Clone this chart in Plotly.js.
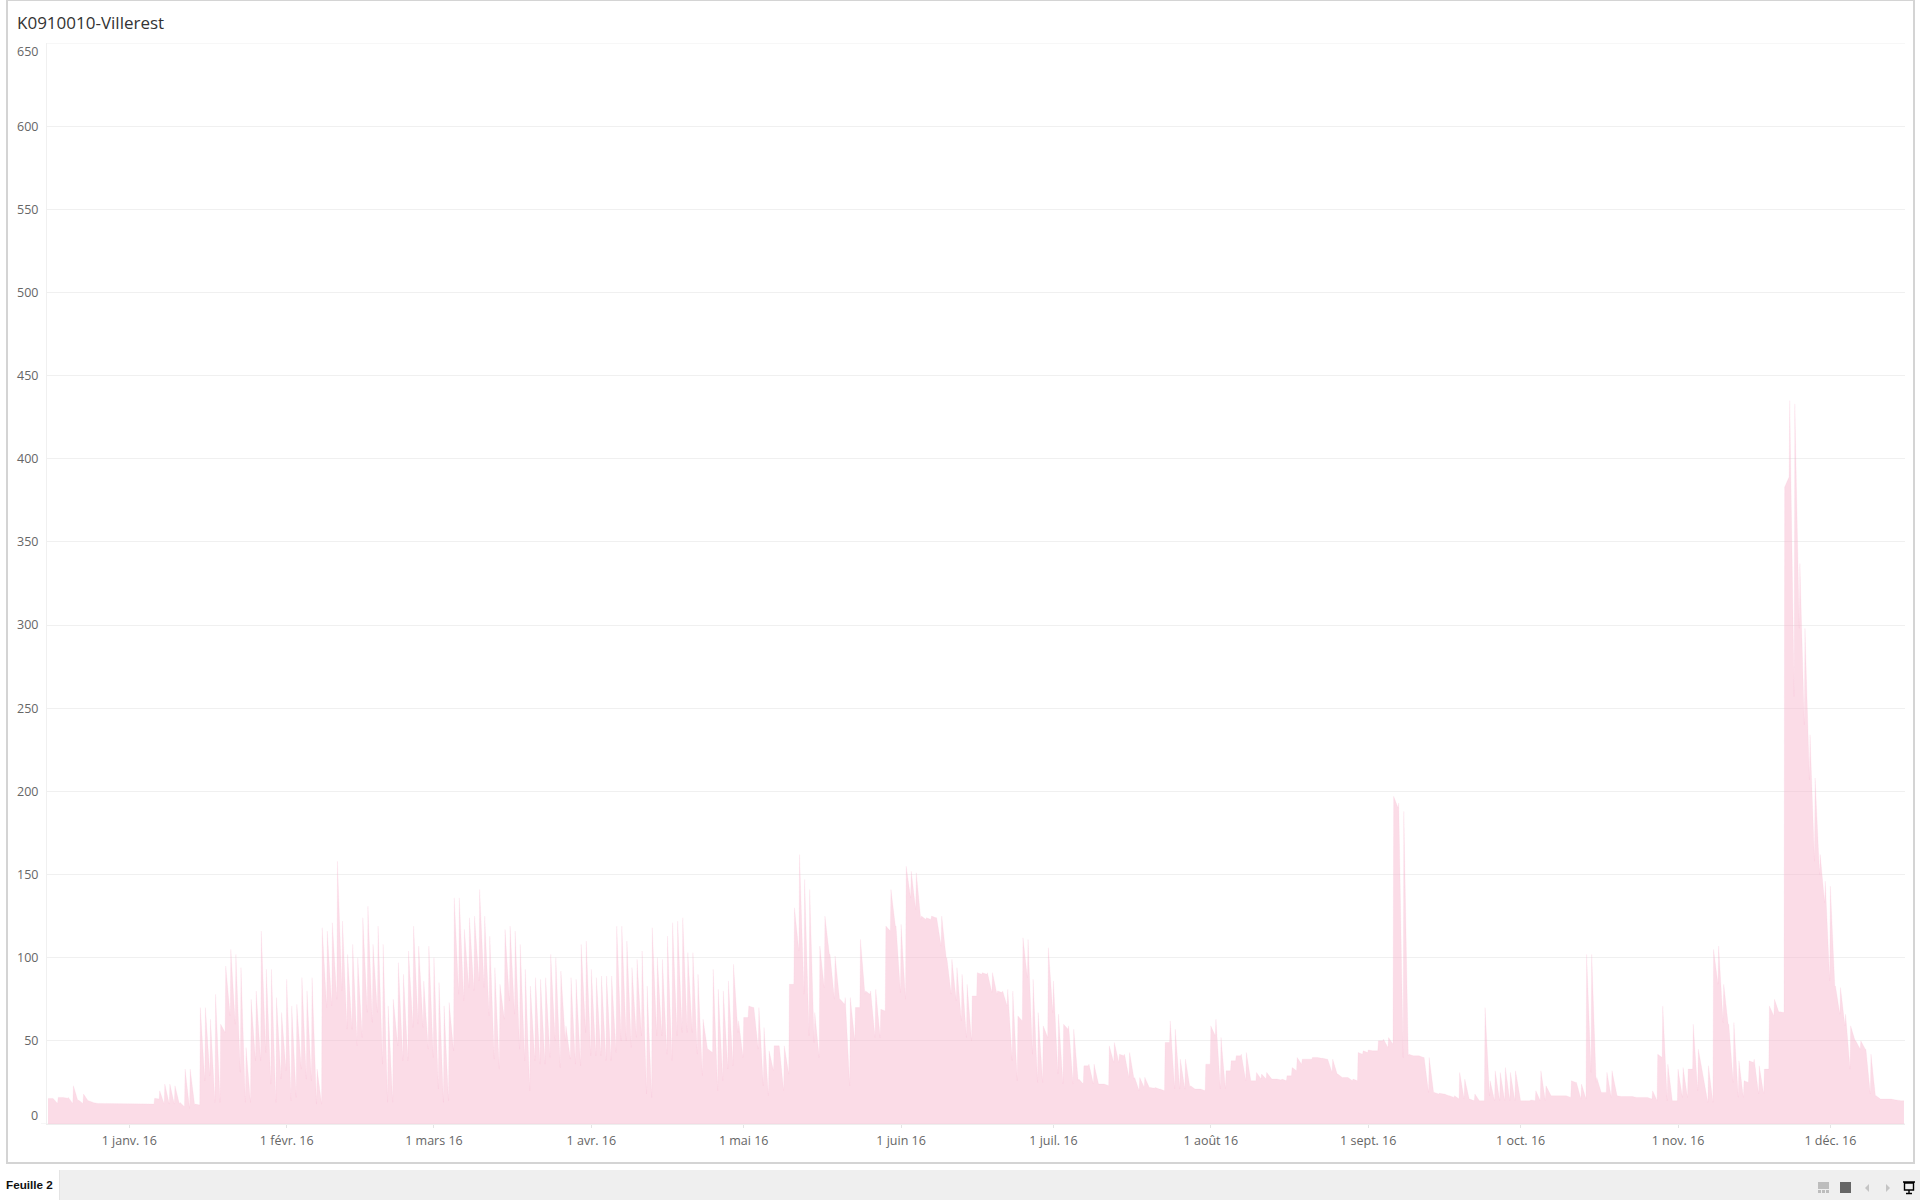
<!DOCTYPE html>
<html><head><meta charset="utf-8">
<script src="https://cdn.plot.ly/plotly-3.0.1.min.js"></script>
<style>
html,body{margin:0;padding:0;background:#fff;overflow:hidden;width:1920px;height:1200px}
#chart{position:absolute;left:0;top:0;width:1920px;height:1200px}
.abs{position:absolute;pointer-events:none}
</style></head><body>
<div id="chart"></div>
<div class="abs" style="left:6px;top:0;width:1905px;height:1161px;border:2px solid #d4d4d4;border-top-width:1px;box-sizing:content-box"></div>
<div class="abs" style="left:0;top:1170px;width:1920px;height:30px;background:#efefef"></div>
<div class="abs" style="left:0;top:1170px;width:60px;height:30px;background:#fff;border-right:1px solid #e4e4e4;box-sizing:border-box"></div>
<div class="abs" style="left:6px;top:1177px;font:bold 11.7px 'Liberation Sans',sans-serif;color:#111;line-height:15px">Feuille 2</div>
<svg class="abs" style="left:1800px;top:1170px" width="120" height="30" viewBox="0 0 120 30">
<rect x="18" y="12" width="11" height="7" fill="#bdbdbd"/><rect x="18" y="20" width="3" height="3" fill="#bdbdbd"/><rect x="22" y="20" width="3" height="3" fill="#bdbdbd"/><rect x="26" y="20" width="3" height="3" fill="#bdbdbd"/>
<rect x="40" y="12" width="11" height="11" fill="#666"/>
<path d="M69 14 L69 22 L65 18 Z" fill="#c4c4c4"/><path d="M86 14 L86 22 L90 18 Z" fill="#c4c4c4"/>
<path d="M103 12 h12 M104.5 13 h9 v7 h-9 z M109 20 v3 M106 23.5 h6" stroke="#000" stroke-width="1.4" fill="none"/>
</svg>
<script>
// Daily readings in m3/s: "high" is the value at the start of each day, "low" the trough just before it.
const highDec15 = [15.4,15.4,16,16,16,23,14.4,18,14,12.8,12.4,12,12,12.4,12,12];
const lowDec15  = [15,15,12.4,16,15.5,12.4,14,12.4,14,13,12.4,12,12,12,12,12];
const highJan = [12.4,12,12,12.4,12,15.5,20,24,24,23,13,33,33,12,70,70,63,78,60,95,105,102,94,46,75,80,116,93,93,76,67];
const lowJan  = [12,12,12,12,12,12,15,12,12,12,12,10.4,9.4,11.4,11.4,26,29,13,13,55,65,60,31,13,13,38,38,43,24,13,27];
const highFeb = [87,71,72,88,80,88,33,118,116,121,158,122,102,108,100,124,131,108,119,108,71,75,97,90,104,119,107,86,107];
const lowFeb  = [32,14,16,33,27,26,12,12,70,71,75,80,57,57,47,52,67,61,67,36,13,13,47,38,38,58,60,58,45];
const highMar = [100,85,71,73,136,136,117,124,125,141,125,113,94,84,117,119,116,108,93,83,88,87,88,102,100,92,59,88,87,108,110];
const lowMar  = [40,21,13,14,44,78,74,82,80,86,82,65,39,33,63,74,66,45,38,20,38,36,36,40,50,34,50,39,36,35,55];
const highApr = [93,88,89,89,89,119,119,110,94,99,104,83,118,100,99,113,121,122,124,103,103,90,63,45,93,81,80,86,96,62];
const lowApr  = [41,41,41,38,38,43,50,50,46,52,53,18,16,53,53,42,38,53,55,55,55,42,29,45,43,20,26,33,35,55];
const highMay = [64,71,70,70,58,44,47,47,47,84,130,162,147,141,67,107,125,102,101,75,76,76,70,111,80,80,81,69,119,141,119];
const lowMay  = [40,64,70,45,23,17,32,47,20,30,84,104,78,53,49,40,82,102,75,75,72,23,50,70,78,78,52,52,68,116,119];
const highJun = [120,155,152,151,125,124,125,124,125,100,99,94,90,84,77,91,91,91,91,80,80,81,80,65,112,111,87,67,59,106];
const lowJun  = [79,75,136,129,123,123,123,124,107,100,78,74,62,52,50,77,90,90,79,78,79,71,38,26,62,88,42,25,25,52];
const highJul = [86,66,60,59,57,27,35,36,36,24,24,47,49,42,42,43,28,28,28,22,22,21,49,62,57,39,39,23,21,21,36];
const lowJul  = [67,30,24,57,24,26,24,35,24,24,24,23,37,37,41,28,27,20,22,22,21.5,21,20,49,21,21,21,22,21,21,20];
const highAug = [59,63,52,32,38,41,42,43,26,31,30,31,27,27,27,29,34,40,39,39,40,40,39.5,39,39,30,28,28,27,43,44];
const lowAug  = [36,53,21,21,32,38,41,26,26,26,27,27,27,27,26.5,26,29,32,36,39,39,40,39.5,39,31,30,28,28,26,26,42];
const highSep = [44.5,44,50,51,52,197,193,188,42,41,41,40,40,19,18.5,18,17,17,31,27,15,18,14,70,26,32,31,34,31,32];
const lowSep  = [43,44,44,50,46,48,190,40,41,41,41,40,19,19,18,18,17,16,15,15,15,14,14,14,17,14,14,14,14,14];
const highOct = [14,14,14.5,20,32,23,17,17,17,17,26,25,24,102,102,28,19,31,32,17,16.5,16.5,16.5,16,16,16,20,42,71,36,14];
const lowOct  = [14,14,14,14,14,14,17,17,17,17,16,25,15,15,31,25,19,19,16,17,16.5,16.5,16.5,16,16,16,15,14,40,14,14];
const highNov = [33,34,33,60,45,28,35,105,107,84,60,61,38,26,38,39,35,33,71,75,67.5,383,435,433,337,298,234,208,162,146];
const lowNov  = [14,16,16,33,20,28,13,13,84,61,60,25,16,16,25,37,18,18,33,65,67,67,389,257,298,240,207,158,150,133];
const highDec16 = [143,83,82,66,59,50,50,45,42,17,15,15,15,14.5,14];
const lowDec16  = [86,83,66,59,33,50,45,45,18,17,15,15,15,14.5,14];

const monthTicks = ["2016-01-01","2016-02-01","2016-03-01","2016-04-01","2016-05-01","2016-06-01","2016-07-01","2016-08-01","2016-09-01","2016-10-01","2016-11-01","2016-12-01"];
const monthLabels = ["1 janv. 16","1 févr. 16","1 mars 16","1 avr. 16","1 mai 16","1 juin 16","1 juil. 16","1 août 16","1 sept. 16","1 oct. 16","1 nov. 16","1 déc. 16"];
const yTicks = [50,100,150,200,250,300,350,400,450,500,550,600];

const highs = [].concat(highDec15,highJan,highFeb,highMar,highApr,highMay,highJun,highJul,highAug,highSep,highOct,highNov,highDec16);
const lows  = [].concat(lowDec15,lowJan,lowFeb,lowMar,lowApr,lowMay,lowJun,lowJul,lowAug,lowSep,lowOct,lowNov,lowDec16);

const xs = [], ys = [];
highs.forEach(function(h,i){
  const day = Date.UTC(2015,11,16+i);
  if(i>0){ xs.push(day-3*3600e3); ys.push(lows[i]); }
  xs.push(day); ys.push(h);
});
xs.push(Date.UTC(2016,11,15,12)); ys.push(highs[highs.length-1]);

Plotly.newPlot('chart',[{
  type:'scatter',mode:'lines',x:xs,y:ys,
  fill:'tozeroy',fillcolor:'rgba(247,181,205,0.48)',
  line:{color:'rgba(247,181,205,0.25)',width:0.6,shape:'linear'},
  hoverinfo:'x+y'
}],{
  width:1920,height:1200,autosize:false,showlegend:false,
  paper_bgcolor:'rgba(0,0,0,0)',plot_bgcolor:'rgba(0,0,0,0)',
  margin:{l:47,r:15,t:43,b:75.5,pad:0},
  font:{family:'"Open Sans",sans-serif',size:12.5,color:'#666'},
  title:{text:'K0910010-Villerest',x:17/1920,xanchor:'left',xref:'container',y:1-23.5/1200,yanchor:'middle',yref:'container',
         font:{family:'"Open Sans",sans-serif',size:17,color:'#333'}},
  xaxis:{type:'date',range:['2015-12-15 19:12','2016-12-15 16:48'],tickmode:'array',tickvals:monthTicks,ticktext:monthLabels,
         showgrid:false,zeroline:false,showline:true,linecolor:'#eeeeee',linewidth:1,ticks:'outside',ticklen:3,tickcolor:'#e4e4e4',tickwidth:1,
         ticklabelstandoff:2,tickfont:{size:12.5,color:'#666'}},
  yaxis:{range:[0,650],tickmode:'array',tickvals:yTicks,ticktext:yTicks.map(String),
         showgrid:true,gridcolor:'#f0f0f0',gridwidth:1,zeroline:false,showline:true,linecolor:'#f0f0f0',linewidth:1,
         ticks:'outside',ticklen:5,tickcolor:'rgba(0,0,0,0)',tickfont:{size:12.5,color:'#666'}},
  shapes:[
    {type:'line',xref:'paper',yref:'y',x0:-6/1858,x1:1,y0:0,y1:0,line:{color:'#eeeeee',width:1},layer:'below'},
    {type:'line',xref:'paper',yref:'y',x0:0,x1:1,y0:650,y1:650,line:{color:'#f0f0f0',width:1},layer:'below'}
  ],
  annotations:[
    {xref:'paper',yref:'y',x:0,y:0,text:'0',showarrow:false,xanchor:'right',yanchor:'middle',xshift:-7,yshift:9,font:{size:12.5,color:'#666'}},
    {xref:'paper',yref:'y',x:0,y:650,text:'650',showarrow:false,xanchor:'right',yanchor:'middle',xshift:-7,yshift:-8,font:{size:12.5,color:'#666'}}
  ]
},{displayModeBar:false,staticPlot:true});
</script>
</body></html>
